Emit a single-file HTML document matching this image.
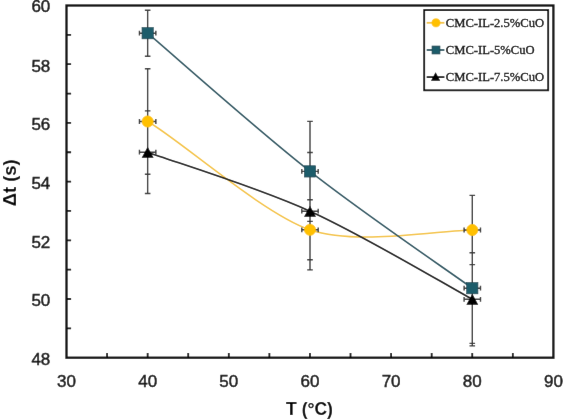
<!DOCTYPE html><html><head><meta charset="utf-8"><style>html,body{margin:0;padding:0;background:#fff;width:563px;height:420px;overflow:hidden}svg{display:block;will-change:transform}</style></head><body>
<svg width="563" height="420" viewBox="0 0 563 420">
<defs><filter id="bl" filterUnits="userSpaceOnUse" x="0" y="0" width="563" height="420"><feConvolveMatrix order="3" kernelMatrix="0.00163 0.03713 0.00163 0.03713 0.84497 0.03713 0.00163 0.03713 0.00163" edgeMode="duplicate" preserveAlpha="true"/></filter></defs>
<g filter="url(#bl)">
<rect width="563" height="420" fill="#fff"/>
<text x="50.3" y="365.0" font-family="Liberation Sans, sans-serif" font-size="17" text-anchor="end" fill="#1a1a1a" stroke="#1a1a1a" stroke-width="0.5">48</text>
<text x="50.3" y="306.3" font-family="Liberation Sans, sans-serif" font-size="17" text-anchor="end" fill="#1a1a1a" stroke="#1a1a1a" stroke-width="0.5">50</text>
<text x="50.3" y="247.6" font-family="Liberation Sans, sans-serif" font-size="17" text-anchor="end" fill="#1a1a1a" stroke="#1a1a1a" stroke-width="0.5">52</text>
<text x="50.3" y="188.9" font-family="Liberation Sans, sans-serif" font-size="17" text-anchor="end" fill="#1a1a1a" stroke="#1a1a1a" stroke-width="0.5">54</text>
<text x="50.3" y="130.2" font-family="Liberation Sans, sans-serif" font-size="17" text-anchor="end" fill="#1a1a1a" stroke="#1a1a1a" stroke-width="0.5">56</text>
<text x="50.3" y="71.5" font-family="Liberation Sans, sans-serif" font-size="17" text-anchor="end" fill="#1a1a1a" stroke="#1a1a1a" stroke-width="0.5">58</text>
<text x="50.3" y="11.8" font-family="Liberation Sans, sans-serif" font-size="17" text-anchor="end" fill="#1a1a1a" stroke="#1a1a1a" stroke-width="0.5">60</text>
<text x="66.5" y="387.2" font-family="Liberation Sans, sans-serif" font-size="17" text-anchor="middle" fill="#1a1a1a" stroke="#1a1a1a" stroke-width="0.5">30</text>
<text x="147.7" y="387.2" font-family="Liberation Sans, sans-serif" font-size="17" text-anchor="middle" fill="#1a1a1a" stroke="#1a1a1a" stroke-width="0.5">40</text>
<text x="228.8" y="387.2" font-family="Liberation Sans, sans-serif" font-size="17" text-anchor="middle" fill="#1a1a1a" stroke="#1a1a1a" stroke-width="0.5">50</text>
<text x="309.9" y="387.2" font-family="Liberation Sans, sans-serif" font-size="17" text-anchor="middle" fill="#1a1a1a" stroke="#1a1a1a" stroke-width="0.5">60</text>
<text x="391.1" y="387.2" font-family="Liberation Sans, sans-serif" font-size="17" text-anchor="middle" fill="#1a1a1a" stroke="#1a1a1a" stroke-width="0.5">70</text>
<text x="472.2" y="387.2" font-family="Liberation Sans, sans-serif" font-size="17" text-anchor="middle" fill="#1a1a1a" stroke="#1a1a1a" stroke-width="0.5">80</text>
<text x="553.4" y="387.2" font-family="Liberation Sans, sans-serif" font-size="17" text-anchor="middle" fill="#1a1a1a" stroke="#1a1a1a" stroke-width="0.5">90</text>
<text x="309.5" y="415" font-family="Liberation Sans, sans-serif" font-size="17.5" font-weight="bold" text-anchor="middle" fill="#000">T (°C)</text>
<text transform="translate(16.0,182.8) rotate(-90)" x="0" y="0" font-family="Liberation Sans, sans-serif" font-size="18.4" font-weight="bold" text-anchor="middle" fill="#000">Δt (s)</text>
<path d="M107.08,357.70V353.10 M147.65,357.70V353.10 M188.22,357.70V353.10 M228.80,357.70V353.10 M269.38,357.70V353.10 M309.95,357.70V353.10 M350.52,357.70V353.10 M391.10,357.70V353.10 M431.68,357.70V353.10 M472.25,357.70V353.10 M512.83,357.70V353.10 M66.50,328.35H71.10 M66.50,299.00H71.10 M66.50,269.65H71.10 M66.50,240.30H71.10 M66.50,210.95H71.10 M66.50,181.60H71.10 M66.50,152.25H71.10 M66.50,122.90H71.10 M66.50,93.55H71.10 M66.50,64.20H71.10 M66.50,34.85H71.10" stroke="#111" stroke-width="1.8" fill="none"/>
<rect x="66.50" y="5.50" width="486.90" height="352.20" fill="none" stroke="#0d0d0d" stroke-width="2.3"/>
<path d="M147.65,121.50 C177.98,138.35 262.34,213.43 310.00,229.80 C357.66,246.17 442.19,229.96 472.30,230.00" stroke="#F4C445" stroke-width="1.5" fill="none"/>
<path d="M147.65,33.20 C174.71,56.23 255.89,128.90 310.00,171.40 C364.11,213.90 445.25,268.73 472.30,288.20" stroke="#2E5864" stroke-width="1.6" fill="none"/>
<path d="M147.65,152.20 C174.71,162.03 255.89,186.68 310.00,211.20 C364.11,235.72 445.25,284.62 472.30,299.30" stroke="#151515" stroke-width="1.7" fill="none"/>
<path d="M147.65,68.70V174.30 M144.85,68.70H150.45 M144.85,174.30H150.45 M139.45,121.50H155.85 M139.45,119.10V123.90 M155.85,119.10V123.90 M310.00,199.80V259.80 M307.20,199.80H312.80 M307.20,259.80H312.80 M301.80,229.80H318.20 M301.80,227.40V232.20 M318.20,227.40V232.20 M472.30,195.40V264.60 M469.50,195.40H475.10 M469.50,264.60H475.10 M464.10,230.00H480.50 M464.10,227.60V232.40 M480.50,227.60V232.40 M147.65,10.20V56.20 M144.85,10.20H150.45 M144.85,56.20H150.45 M139.45,33.20H155.85 M139.45,30.80V35.60 M155.85,30.80V35.60 M310.00,121.40V221.40 M307.20,121.40H312.80 M307.20,221.40H312.80 M301.80,171.40H318.20 M301.80,169.00V173.80 M318.20,169.00V173.80 M472.30,233.00V343.40 M469.50,233.00H475.10 M469.50,343.40H475.10 M464.10,288.20H480.50 M464.10,285.80V290.60 M480.50,285.80V290.60 M147.65,110.90V193.50 M144.85,110.90H150.45 M144.85,193.50H150.45 M139.45,152.20H155.85 M139.45,149.80V154.60 M155.85,149.80V154.60 M310.00,152.50V269.90 M307.20,152.50H312.80 M307.20,269.90H312.80 M301.80,211.20H318.20 M301.80,208.80V213.60 M318.20,208.80V213.60 M472.30,252.70V345.90 M469.50,252.70H475.10 M469.50,345.90H475.10 M464.10,299.30H480.50 M464.10,296.90V301.70 M480.50,296.90V301.70" stroke="#3a3a3a" stroke-width="1.4" fill="none"/>
<circle cx="147.65" cy="121.50" r="5.65" fill="#FFC000" stroke="#FFC000" stroke-width="0.6"/>
<circle cx="310.00" cy="229.80" r="5.65" fill="#FFC000" stroke="#FFC000" stroke-width="0.6"/>
<circle cx="472.30" cy="230.00" r="5.65" fill="#FFC000" stroke="#FFC000" stroke-width="0.6"/>
<rect x="142.00" y="27.55" width="11.30" height="11.30" fill="#1F5B6A" stroke="#1A4753" stroke-width="0.6"/>
<rect x="304.35" y="165.75" width="11.30" height="11.30" fill="#1F5B6A" stroke="#1A4753" stroke-width="0.6"/>
<rect x="466.65" y="282.55" width="11.30" height="11.30" fill="#1F5B6A" stroke="#1A4753" stroke-width="0.6"/>
<path d="M147.65,146.67 L153.60,157.73 L141.70,157.73 Z" fill="#000"/>
<path d="M310.00,205.67 L315.95,216.73 L304.05,216.73 Z" fill="#000"/>
<path d="M472.30,293.77 L478.25,304.83 L466.35,304.83 Z" fill="#000"/>
<rect x="424.2" y="10.1" width="124" height="80.2" fill="#fff" stroke="#000" stroke-width="1.8"/>
<path d="M426.7,22.80H444.4" stroke="#F4C445" stroke-width="1.8"/>
<circle cx="436.00" cy="22.80" r="4.10" fill="#FFC000" stroke="#FFC000" stroke-width="0.6"/>
<text x="445.8" y="26.90" font-family="Liberation Serif, serif" font-size="12.6" fill="#000" stroke="#000" stroke-width="0.32">CMC-IL-2.5%CuO</text>
<path d="M426.7,50.00H444.4" stroke="#2E5864" stroke-width="1.8"/>
<rect x="432.00" y="46.00" width="8.00" height="8.00" fill="#1F5B6A" stroke="#1A4753" stroke-width="0.6"/>
<text x="445.8" y="54.10" font-family="Liberation Serif, serif" font-size="12.6" fill="#000" stroke="#000" stroke-width="0.32">CMC-IL-5%CuO</text>
<path d="M426.7,77.10H444.4" stroke="#151515" stroke-width="1.8"/>
<path d="M435.60,72.36 L440.20,80.64 L431.00,80.64 Z" fill="#000"/>
<text x="445.8" y="81.20" font-family="Liberation Serif, serif" font-size="12.6" fill="#000" stroke="#000" stroke-width="0.32">CMC-IL-7.5%CuO</text>
</g></svg></body></html>
